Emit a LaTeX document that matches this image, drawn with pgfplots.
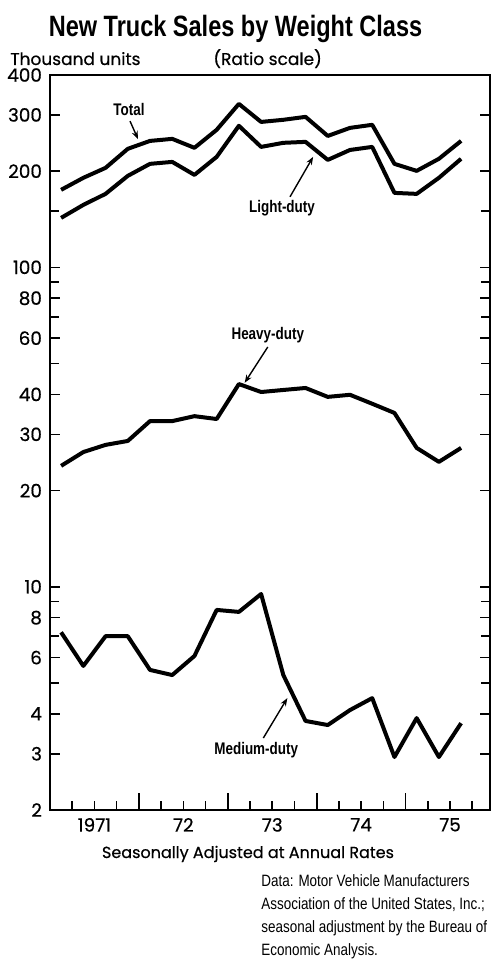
\documentclass[border=0pt]{standalone}
\usepackage{pgfplots}
\pgfplotsset{compat=1.18}
\usepackage{pgfplotstable}
\usepackage{fontspec}
\usetikzlibrary{arrows.meta}
\setmainfont{Poppins}
\newfontfamily\condfont[FakeStretch=0.8]{Liberation Sans}
\newfontfamily\srcfont[FakeStretch=0.82]{Liberation Sans}
\newfontfamily\geofont[FakeBold=0.5]{Poppins}

\pgfplotstableread{
t        total  light  heavy  medium
1971.125 174.8  142.8  23.9   7.20
1971.375 190.6  156.8  26.4   5.65
1971.625 204.8  169.8  27.8   7.00
1971.875 234.9  193.3  28.6   7.00
1972.125 248.7  210.8  33.0   5.49
1972.375 252.4  213.8  33.0   5.29
1972.625 236.6  194.7  34.2   6.07
1972.875 269.4  221.7  33.5   8.46
1973.125 324.8  277.4  43.1   8.34
1973.375 285.2  238.2  40.7   9.49
1973.625 289.6  245.3  41.3   5.29
1973.875 295.8  247.0  41.9   3.80
1974.125 257.8  216.9  39.3   3.69
1974.375 273.2  233.0  39.9   4.11
1974.625 279.3  238.2  37.4   4.48
1974.875 210.8  171.0  35.0   2.93
1975.125 200.4  169.8  27.2   3.88
1975.375 218.6  190.6  24.6   2.93
1975.625 248.7  218.6  27.2   3.74
}\trucks

\begin{document}
\begin{tikzpicture}
\useasboundingbox (-25pt,-76.5pt) rectangle (221pt,405pt);
\begin{axis}[
  at={(0pt,0pt)}, anchor=south west,
  scale only axis, width=220pt, height=367.5pt,
  xmin=1971, xmax=1975.95,
  ymode=log, ymin=2, ymax=400,
  clip=false,
  axis line style={line width=1pt},
  tick style={black, line width=0.8pt},
  major tick length=5pt, minor tick length=4.7pt,
  xtick pos=bottom, ytick pos=both,
  tick align=inside,
  xtick={1971.5,1972.5,1973.5,1974.5,1975.5},
  xticklabels={1971,72,73,74,75},
  major x tick style={draw=none},
  minor xtick={1971.25,1971.5,1971.75,1972.25,1972.5,1972.75,1973.25,1973.5,1973.75,1974.25,1974.5,1974.75,1975.25,1975.5,1975.75},
  ytick={2,3,4,6,8,10,20,30,40,60,80,100,200,300,400},
  yticklabels={2,3,4,6,8,10,20,30,40,60,80,100,200,300,400},
  minor ytick={5,7,9,50,70,90,150},
  /pgf/number format/assume math mode=true,
  tick label style={font=\geofont\fontsize{9.2}{10}\selectfont},
  yticklabel style={xshift=-0.5pt},
  xticklabel style={yshift=-0.5pt},
]
\addplot[black, line width=2pt, line join=round] table[x=t, y=total] {\trucks};
\addplot[black, line width=2pt, line join=round] table[x=t, y=light] {\trucks};
\addplot[black, line width=2pt, line join=round] table[x=t, y=heavy] {\trucks};
\addplot[black, line width=2pt, line join=round] table[x=t, y=medium] {\trucks};

% year-boundary ticks (longer)
\pgfplotsinvokeforeach{1972,1973,1974,1975}{
  \draw[black, line width=0.9pt] (axis cs:#1,2) -- ++(0pt,8.5pt);
}

\begin{scope}[font=\condfont\bfseries\fontsize{8.4}{10}\selectfont]
\node at (axis cs:1971.889,311) {Total};
\draw[line width=0.7pt, -{Stealth[length=4pt,width=3pt]}] (axis cs:1971.90,287) -- (axis cs:1971.99,252);
\node at (axis cs:1973.61,153.4) {Light-duty};
\draw[line width=0.7pt, -{Stealth[length=4pt,width=3pt]}] (axis cs:1973.70,166.2) -- (axis cs:1973.96,221.7);
\node at (axis cs:1973.45,61.4) {Heavy-duty};
\draw[line width=0.7pt, -{Stealth[length=4pt,width=3pt]}] (axis cs:1973.45,56.3) -- (axis cs:1973.19,43.5);
\node at (axis cs:1973.32,3.08) {Medium-duty};
\draw[line width=0.7pt, -{Stealth[length=4pt,width=3pt]}] (axis cs:1973.40,3.36) -- (axis cs:1973.67,4.48);
\end{scope}
\end{axis}

\node[anchor=base] at (92.75pt,386.5pt) {\condfont\bfseries\fontsize{14.7}{16}\selectfont New Truck Sales by Weight Class};
\node[anchor=base west, inner sep=0pt] at (-20pt,372.5pt) {\geofont\fontsize{8.5}{10}\selectfont Thousand units};
\node[anchor=base west, inner sep=0pt] at (81.5pt,372.5pt) {\geofont\fontsize{8.5}{10}\selectfont (Ratio scale)};
\node[anchor=base] at (99pt,-24pt) {\geofont\fontsize{8}{10}\selectfont Seasonally Adjusted at Annual Rates};
\begin{scope}[font=\srcfont\fontsize{8.2}{9}\selectfont]
\node[anchor=base west, inner sep=0pt] at (105.5pt,-38pt) {Data: Motor Vehicle Manufacturers};
\node[anchor=base west, inner sep=0pt] at (105.5pt,-49.5pt) {Association of the United States, Inc.;};
\node[anchor=base west, inner sep=0pt] at (105.5pt,-61pt) {seasonal adjustment by the Bureau of};
\node[anchor=base west, inner sep=0pt] at (105.5pt,-72.5pt) {Economic Analysis.};
\end{scope}
\end{tikzpicture}
\end{document}
